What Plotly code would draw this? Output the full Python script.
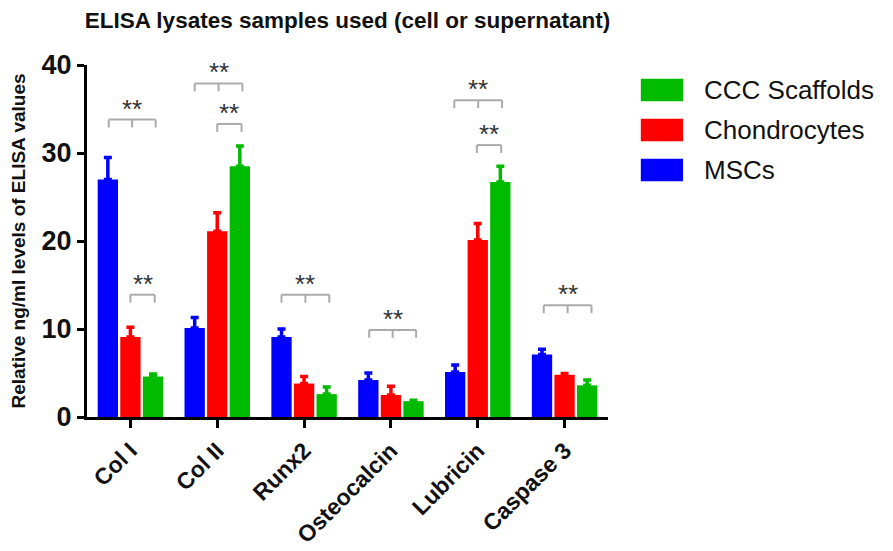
import plotly.graph_objects as go

# ---------------- data ----------------
categories = ["Col I", "Col II", "Runx2", "Osteocalcin", "Lubricin", "Caspase 3"]
series_names = ["MSCs", "Chondrocytes", "CCC Scaffolds"]
series_colors = ["#0000FF", "#FF0000", "#00BB00"]

msc_vals = [27.0, 10.1, 9.1, 4.2, 5.1, 7.1]
msc_err = [2.5, 1.2, 0.9, 0.8, 0.8, 0.6]
chondro_vals = [9.1, 21.1, 3.8, 2.5, 20.1, 4.8]
chondro_err = [1.1, 2.1, 0.8, 1.0, 1.9, 0.15]
ccc_vals = [4.6, 28.5, 2.6, 1.8, 26.7, 3.6]
ccc_err = [0.3, 2.3, 0.8, 0.1, 1.8, 0.6]

values = [msc_vals, chondro_vals, ccc_vals]
errors = [msc_err, chondro_err, ccc_err]

# significance brackets: category index, left offset, right offset, height, has middle tick
bracket_cat = [0, 0, 1, 1, 2, 3, 4, 4, 5]
bracket_left = [-0.25, 0.0, -0.26, 0.0, -0.26, -0.25, -0.27, -0.01, -0.24]
bracket_right = [0.29, 0.28, 0.29, 0.28, 0.29, 0.29, 0.28, 0.27, 0.31]
bracket_y = [33.8, 13.9, 37.9, 33.3, 13.9, 9.9, 36.0, 30.9, 12.7]
bracket_mid = [True, False, True, False, True, True, True, False, True]
bracket_label = ["**"] * 9

y_ticks = [0, 10, 20, 30, 40]

FONT = "Liberation Sans, Arial, sans-serif"

fig = go.Figure()
x_pos = list(range(len(categories)))
for name, color, vals, errs in zip(series_names, series_colors, values, errors):
    fig.add_trace(go.Bar(
        x=x_pos, y=vals, name=name,
        marker=dict(color=color, line=dict(width=0)),
        error_y=dict(type="data", symmetric=False, array=errs,
                     arrayminus=[0] * len(errs), color=color,
                     thickness=3.5, width=4),
        showlegend=False,
    ))

shapes = []
annotations = []
drop = 0.9
for c, l, r, y, mid, lab in zip(bracket_cat, bracket_left, bracket_right,
                                bracket_y, bracket_mid, bracket_label):
    x0, x1 = c + l, c + r
    ln = dict(color="#ababab", width=2)
    shapes.append(dict(type="line", xref="x", yref="y", x0=x0, x1=x1, y0=y, y1=y, line=ln))
    shapes.append(dict(type="line", xref="x", yref="y", x0=x0, x1=x0, y0=y, y1=y - drop, line=ln))
    shapes.append(dict(type="line", xref="x", yref="y", x0=x1, x1=x1, y0=y, y1=y - drop, line=ln))
    if mid:
        xm = (x0 + x1) / 2
        shapes.append(dict(type="line", xref="x", yref="y", x0=xm, x1=xm, y0=y, y1=y - drop, line=ln))
    annotations.append(dict(x=(x0 + x1) / 2, y=y, xref="x", yref="y", text=lab,
                            showarrow=False, yanchor="middle", yshift=11,
                            font=dict(family=FONT, size=26, color="#333333")))

# custom legend (large swatches), listed top to bottom in reverse series order
legend_top = 0.929
legend_step = 0.1136
for i, (name, color) in enumerate(zip(series_names[::-1], series_colors[::-1])):
    yc = legend_top - i * legend_step
    shapes.append(dict(type="rect", xref="paper", yref="paper",
                       x0=1.063, x1=1.144, y0=yc - 0.032, y1=yc + 0.032,
                       fillcolor=color, line=dict(width=0)))
    annotations.append(dict(x=1.18, y=yc, xref="paper", yref="paper", text=name,
                            showarrow=False, xanchor="left", yanchor="middle",
                            font=dict(family=FONT, size=26, color="#111111")))

# the page adds an 8px body margin, so the figure is 8px smaller than the window
fig.update_layout(
    width=885, height=543,
    margin=dict(l=79, r=285, t=57, b=134),
    paper_bgcolor="white", plot_bgcolor="white",
    barmode="group", bargap=0.22, bargroupgap=0.1,
    title=dict(text="<b>ELISA lysates samples used (cell or supernatant)</b>",
               x=0.5, xref="paper", xanchor="center", y=0.993, yanchor="top",
               pad=dict(t=0, b=0),
               font=dict(family=FONT, size=22.5, color="#111111")),
    shapes=shapes, annotations=annotations,
    font=dict(family=FONT, color="#111111"),
)
fig.update_xaxes(
    range=[-0.5, 5.5], tickmode="array", tickvals=x_pos,
    ticktext=["<b>%s</b>" % c for c in categories],
    tickangle=-45, tickfont=dict(family=FONT, size=23, color="#111111"),
    showline=True, linecolor="black", linewidth=3,
    ticks="outside", ticklen=8, tickwidth=3, tickcolor="black",
    showgrid=False, zeroline=False, automargin=False,
)
fig.update_yaxes(
    range=[0, 40], tickmode="array", tickvals=y_ticks,
    ticktext=["<b>%d</b>" % t for t in y_ticks],
    tickfont=dict(family=FONT, size=27, color="#111111"),
    showline=True, linecolor="black", linewidth=3,
    ticks="outside", ticklen=7, tickwidth=3, tickcolor="black",
    showgrid=False, zeroline=False, automargin=False,
    title=dict(text="<b>Relative ng/ml levels of ELISA values</b>", standoff=14,
               font=dict(family=FONT, size=19, color="#111111")),
)

fig.write_html("out.html")
